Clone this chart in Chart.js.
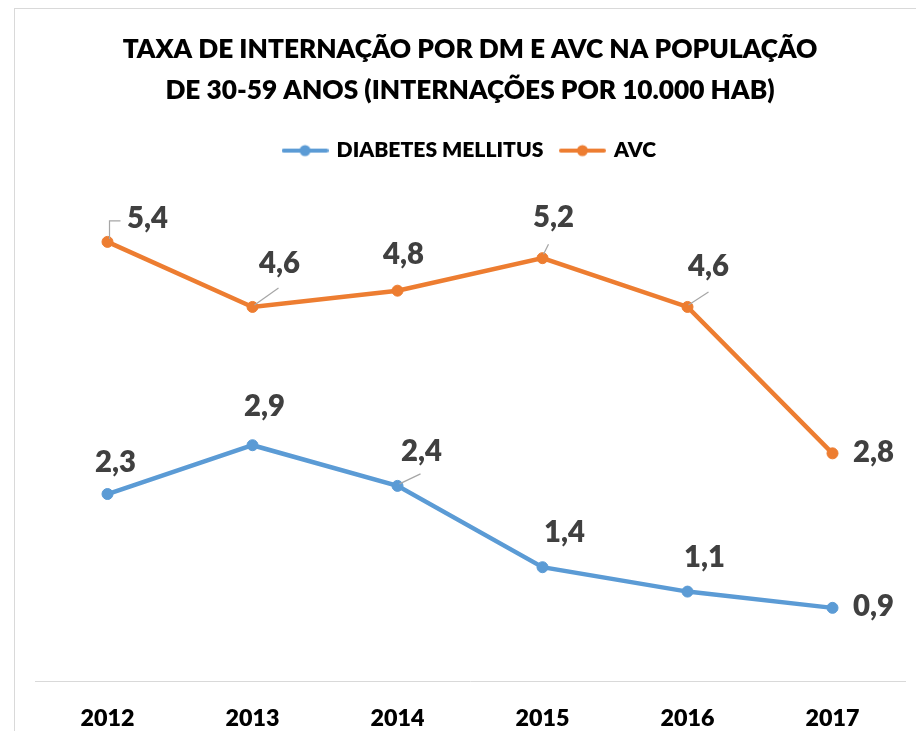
<!DOCTYPE html>
<html><head><meta charset="utf-8">
<script src="https://cdn.jsdelivr.net/npm/chart.js@4/dist/chart.umd.min.js"></script>
<style>html,body{margin:0;padding:0;background:#fff;overflow:hidden}#wrap{width:916px;height:731px;position:relative}</style>
</head><body><div id="wrap"><canvas id="c" width="916" height="731"></canvas></div>
<script>
// ---- data ----
const years = ['2012', '2013', '2014', '2015', '2016', '2017'];
const dmValues = [2.3, 2.9, 2.4, 1.4, 1.1, 0.9];
const avcValues = [5.4, 4.6, 4.8, 5.2, 4.6, 2.8];
const seriesNames = ['DIABETES MELLITUS', 'AVC'];
const titleLines = ['TAXA DE INTERNAÇÃO POR DM E AVC NA POPULAÇÃO', 'DE 30-59 ANOS (INTERNAÇÕES POR 10.000 HAB)'];

// ---- label placement (styling only) ----
const dmLabelOffsets = [[8, -28], [12, -35], [24, -31], [22, -31], [17, -31], [41, 2]];
const avcLabelOffsets = [[40, -20], [27, -40], [6, -33], [11, -37], [21, -37], [41, 2]];
const dmLeaders = [null, null, [[2, -2], [23, -12]], null, null, null];
const avcLeaders = [[[2, -3], [2, -21], [13, -21]], [[2, -2], [26, -19]], null, [[1, -4], [6, -14]], [[1, -2], [21, -15]], null];

const FONT = 'Lato, "Open Sans", sans-serif';
const W = 800;
const BLUE = '#5B9BD5', ORANGE = '#ED7D31';

function fitSize(text, target) {
  const c = document.createElement('canvas').getContext('2d');
  c.font = W + ' 100px ' + FONT;
  return 100 * target / c.measureText(text).width;
}
function legendMarker(color) {
  const cv = document.createElement('canvas');
  cv.width = 47; cv.height = 14;
  const g = cv.getContext('2d');
  g.strokeStyle = color; g.lineWidth = 4; g.lineCap = 'round';
  g.beginPath(); g.moveTo(2, 7); g.lineTo(45, 7); g.stroke();
  g.fillStyle = color; g.beginPath(); g.arc(23.5, 7, 5.5, 0, Math.PI * 2); g.fill();
  return cv;
}

const titleSize = fitSize(titleLines[0], 695);
const legendSize = fitSize(seriesNames[0], 207);
const tickSize = fitSize('2012', 54);
const labelSize = fitSize('5,4', 41);
const markers = [legendMarker(BLUE), legendMarker(ORANGE)];

const frame = {
  id: 'frame',
  beforeDraw(chart) {
    const ctx = chart.ctx;
    ctx.save();
    ctx.fillStyle = '#fff'; ctx.fillRect(0, 0, chart.width, chart.height);
    ctx.strokeStyle = '#d9d9d9'; ctx.lineWidth = 1;
    ctx.strokeRect(14.5, 8.5, 1000, 1000);
    ctx.restore();
  }
};

const offsetsBy = [dmLabelOffsets, avcLabelOffsets];
const leadersBy = [dmLeaders, avcLeaders];
const valueLabels = {
  id: 'valueLabels',
  afterDatasetsDraw(chart) {
    const ctx = chart.ctx;
    ctx.save();
    ctx.font = W + ' ' + labelSize + 'px ' + FONT;
    const capH = ctx.measureText('0').actualBoundingBoxAscent;
    chart.data.datasets.forEach((ds, di) => {
      const meta = chart.getDatasetMeta(di);
      meta.data.forEach((pt, i) => {
        const lead = leadersBy[di][i];
        if (lead) {
          ctx.strokeStyle = '#a6a6a6'; ctx.lineWidth = 1.2;
          ctx.beginPath();
          lead.forEach((p, k) => { const f = k ? 'lineTo' : 'moveTo'; ctx[f](pt.x + p[0], pt.y + p[1]); });
          ctx.stroke();
        }
        const [dx, dy] = offsetsBy[di][i];
        ctx.fillStyle = '#404040';
        ctx.textAlign = 'center';
        ctx.textBaseline = 'alphabetic';
        ctx.fillText(ds.data[i].toFixed(1).replace('.', ','), pt.x + dx, pt.y + dy + capH / 2);
      });
    });
    ctx.restore();
  }
};

new Chart(document.getElementById('c'), {
  type: 'line',
  data: {
    labels: years,
    datasets: [
      { label: seriesNames[0], data: dmValues, borderColor: BLUE, backgroundColor: BLUE, borderWidth: 4.5,
        pointRadius: 5.5, pointBackgroundColor: BLUE, pointBorderColor: BLUE, pointBorderWidth: 1, tension: 0 },
      { label: seriesNames[1], data: avcValues, borderColor: ORANGE, backgroundColor: ORANGE, borderWidth: 4.5,
        pointRadius: 5.5, pointBackgroundColor: ORANGE, pointBorderColor: ORANGE, pointBorderWidth: 1, tension: 0 }
    ]
  },
  options: {
    responsive: false,
    animation: false,
    devicePixelRatio: 1,
    layout: { padding: { left: 35, right: 11, top: 0, bottom: -24 } },
    plugins: {
      title: {
        display: true, text: titleLines, color: '#000',
        font: { family: FONT, weight: W, size: titleSize, lineHeight: '41px' },
        padding: { top: 29, bottom: 11 }
      },
      legend: {
        display: true,
        labels: {
          usePointStyle: true, pointStyleWidth: 42, padding: 18, color: '#000',
          font: { family: FONT, weight: W, size: legendSize },
          generateLabels(chart) {
            const items = Chart.defaults.plugins.legend.labels.generateLabels(chart);
            items.forEach((it, i) => { it.pointStyle = markers[i]; });
            return items;
          }
        }
      },
      tooltip: { enabled: false }
    },
    scales: {
      x: {
        offset: true,
        grid: { display: false, drawTicks: false },
        border: { display: true, color: '#d9d9d9', width: 1 },
        ticks: { color: '#000', padding: 23, font: { family: FONT, weight: W, size: tickSize } }
      },
      y: { display: false, min: 0, max: 6.27 }
    }
  },
  plugins: [frame, valueLabels]
});
</script>
</body></html>
